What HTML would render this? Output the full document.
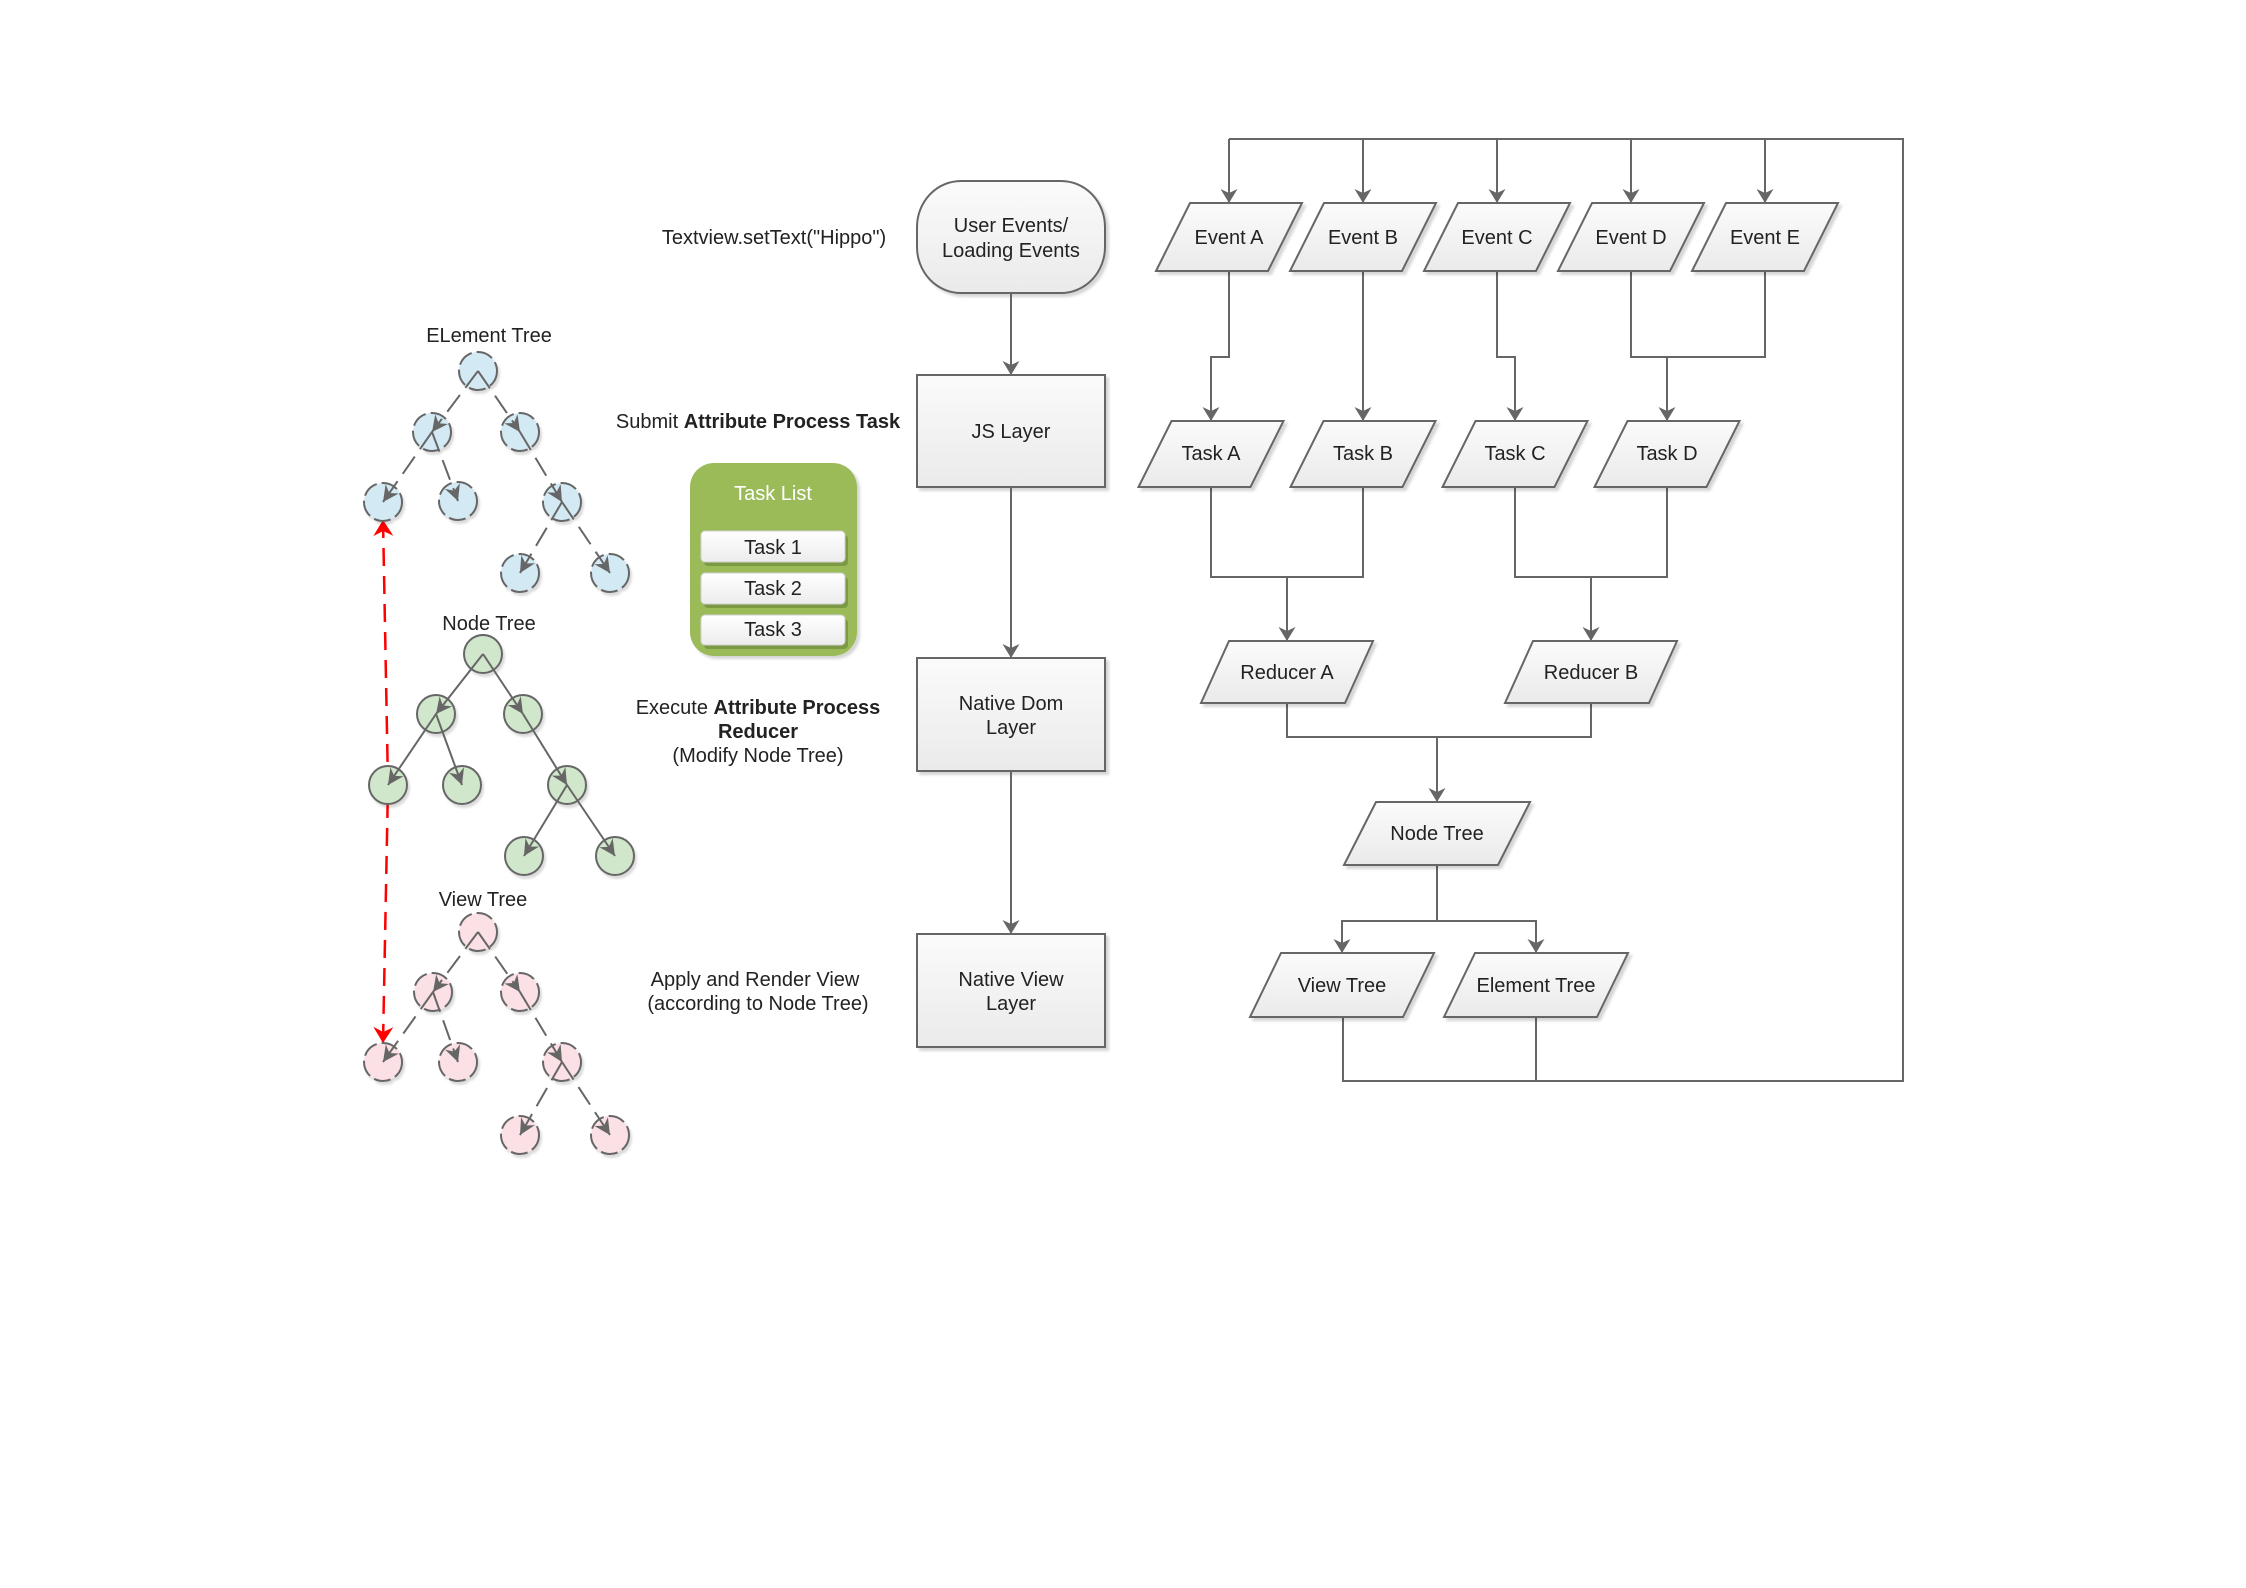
<!DOCTYPE html>
<html>
<head>
<meta charset="utf-8">
<style>
  html, body { margin: 0; padding: 0; background: #ffffff; }
  svg { display: block; }
  text { font-family: "Liberation Sans", Arial, sans-serif; font-size: 20px; fill: #222; }
  .b { font-weight: bold; }
</style>
</head>
<body>
<svg width="2246" height="1588" viewBox="0 0 2246 1588" xmlns="http://www.w3.org/2000/svg">
  <defs>
    <linearGradient id="gbox" x1="0" y1="0" x2="0" y2="1">
      <stop offset="0" stop-color="#fbfbfb"/>
      <stop offset="1" stop-color="#eaeaea"/>
    </linearGradient>
    <linearGradient id="gtask" x1="0" y1="0" x2="0" y2="1">
      <stop offset="0" stop-color="#ffffff"/>
      <stop offset="1" stop-color="#ececec"/>
    </linearGradient>
    <filter id="sh" x="-20%" y="-20%" width="140%" height="150%">
      <feDropShadow dx="3" dy="3" stdDeviation="1.2" flood-color="#000" flood-opacity="0.16"/>
    </filter>
    <filter id="shc" x="-30%" y="-30%" width="160%" height="160%">
      <feDropShadow dx="2" dy="3" stdDeviation="1" flood-color="#000" flood-opacity="0.14"/>
    </filter>
    <marker id="arr" viewBox="-16 -9 17 18" refX="0" refY="0" markerWidth="17" markerHeight="18" markerUnits="userSpaceOnUse" orient="auto">
      <path d="M0,0 L-14,-8.5 L-10,0 L-14,8.5 Z" fill="#666"/>
    </marker>
    <marker id="tarr" viewBox="-18 -9 19 18" refX="0" refY="0" markerWidth="19" markerHeight="18" markerUnits="userSpaceOnUse" orient="auto">
      <path d="M0,0 L-16,-8 L-11,0 L-16,8 Z" fill="#666"/>
    </marker>
    <marker id="rarr" viewBox="-17 -11 18 22" refX="0" refY="0" markerWidth="18" markerHeight="22" markerUnits="userSpaceOnUse" orient="auto-start-reverse">
      <path d="M0,0 L-16,-10 L-11,0 L-16,10 Z" fill="#ff0000"/>
    </marker>
  </defs>

  <!-- ================= LEFT: TREES ================= -->
  <text x="489" y="342" text-anchor="middle">ELement Tree</text>
  <text x="489" y="630" text-anchor="middle">Node Tree</text>
  <text x="483" y="906" text-anchor="middle">View Tree</text>

  <!-- red dashed double arrow (behind circles) -->
  <path d="M383,520 L388,785 L383,1043" fill="none" stroke="#ff0000" stroke-width="2.5" stroke-dasharray="18 10" marker-start="url(#rarr)" marker-end="url(#rarr)"/>

  <!-- Element tree circles -->
  <g fill="#d3e9f3" stroke="#666" stroke-width="2" stroke-dasharray="17 5" filter="url(#shc)">
    <circle cx="478" cy="371" r="19"/>
    <circle cx="432" cy="432" r="19"/>
    <circle cx="520" cy="432" r="19"/>
    <circle cx="383" cy="502" r="19"/>
    <circle cx="458" cy="501" r="19"/>
    <circle cx="562" cy="502" r="19"/>
    <circle cx="520" cy="573" r="19"/>
    <circle cx="610" cy="573" r="19"/>
  </g>
  <!-- Element tree edges -->
  <g fill="none" stroke="#666" stroke-width="2" stroke-dasharray="21 9 21 9 60 9" marker-end="url(#tarr)">
    <line x1="478" y1="371" x2="432" y2="432"/>
    <line x1="478" y1="371" x2="520" y2="432"/>
    <line x1="432" y1="432" x2="383" y2="502"/>
    <line x1="432" y1="432" x2="458" y2="501"/>
    <line x1="520" y1="432" x2="562" y2="502"/>
    <line x1="562" y1="502" x2="520" y2="573"/>
    <line x1="562" y1="502" x2="610" y2="573"/>
  </g>

  <!-- Node tree circles -->
  <g fill="#d1e7cc" stroke="#666" stroke-width="2" filter="url(#shc)">
    <circle cx="483" cy="654" r="19"/>
    <circle cx="436" cy="714" r="19"/>
    <circle cx="523" cy="714" r="19"/>
    <circle cx="388" cy="785" r="19"/>
    <circle cx="462" cy="785" r="19"/>
    <circle cx="567" cy="785" r="19"/>
    <circle cx="524" cy="856" r="19"/>
    <circle cx="615" cy="856" r="19"/>
  </g>
  <g fill="none" stroke="#666" stroke-width="2" marker-end="url(#tarr)">
    <line x1="483" y1="654" x2="436" y2="714"/>
    <line x1="483" y1="654" x2="523" y2="714"/>
    <line x1="436" y1="714" x2="388" y2="785"/>
    <line x1="436" y1="714" x2="462" y2="785"/>
    <line x1="523" y1="714" x2="567" y2="785"/>
    <line x1="567" y1="785" x2="524" y2="856"/>
    <line x1="567" y1="785" x2="615" y2="856"/>
  </g>

  <!-- View tree circles -->
  <g fill="#fbe0e6" stroke="#666" stroke-width="2" stroke-dasharray="17 5" filter="url(#shc)">
    <circle cx="478" cy="932" r="19"/>
    <circle cx="433" cy="992" r="19"/>
    <circle cx="520" cy="992" r="19"/>
    <circle cx="383" cy="1062" r="19"/>
    <circle cx="458" cy="1062" r="19"/>
    <circle cx="562" cy="1062" r="19"/>
    <circle cx="520" cy="1135" r="19"/>
    <circle cx="610" cy="1135" r="19"/>
  </g>
  <g fill="none" stroke="#666" stroke-width="2" stroke-dasharray="21 9 21 9 60 9" marker-end="url(#tarr)">
    <line x1="478" y1="932" x2="433" y2="992"/>
    <line x1="478" y1="932" x2="520" y2="992"/>
    <line x1="433" y1="992" x2="383" y2="1062"/>
    <line x1="433" y1="992" x2="458" y2="1062"/>
    <line x1="520" y1="992" x2="562" y2="1062"/>
    <line x1="562" y1="1062" x2="520" y2="1135"/>
    <line x1="562" y1="1062" x2="610" y2="1135"/>
  </g>

  <!-- ================= MIDDLE LABELS ================= -->
  <text x="774" y="244" text-anchor="middle">Textview.setText("Hippo")</text>
  <text x="758" y="428" text-anchor="middle">Submit <tspan class="b">Attribute Process Task</tspan></text>
  <text x="758" y="714" text-anchor="middle">Execute <tspan class="b">Attribute Process</tspan></text>
  <text x="758" y="738" text-anchor="middle" class="b">Reducer</text>
  <text x="758" y="762" text-anchor="middle">(Modify Node Tree)</text>
  <text x="755" y="986" text-anchor="middle">Apply and Render View</text>
  <text x="758" y="1010" text-anchor="middle">(according to Node Tree)</text>

  <!-- Task list -->
  <rect x="690" y="463" width="167" height="193" rx="24" ry="24" fill="#9bbb59" filter="url(#sh)"/>
  <text x="773" y="500" text-anchor="middle" style="fill:#ffffff">Task List</text>
  <g>
    <rect x="704" y="535" width="144" height="31" rx="4" fill="#7c9a44"/>
    <rect x="701" y="531" width="144" height="31" rx="4" fill="url(#gtask)" stroke="#d0d0d0" stroke-width="1"/>
    <text x="773" y="554" text-anchor="middle">Task 1</text>
    <rect x="704" y="577" width="144" height="31" rx="4" fill="#7c9a44"/>
    <rect x="701" y="573" width="144" height="31" rx="4" fill="url(#gtask)" stroke="#d0d0d0" stroke-width="1"/>
    <text x="773" y="595" text-anchor="middle">Task 2</text>
    <rect x="704" y="619" width="144" height="30" rx="4" fill="#7c9a44"/>
    <rect x="701" y="615" width="144" height="30" rx="4" fill="url(#gtask)" stroke="#d0d0d0" stroke-width="1"/>
    <text x="773" y="636" text-anchor="middle">Task 3</text>
  </g>

  <!-- ================= MIDDLE COLUMN ================= -->
  <g stroke="#666" stroke-width="2">
    <rect x="917" y="181" width="188" height="112" rx="44" ry="46" fill="url(#gbox)" filter="url(#sh)"/>
    <rect x="917" y="375" width="188" height="112" fill="url(#gbox)" filter="url(#sh)"/>
    <rect x="917" y="658" width="188" height="113" fill="url(#gbox)" filter="url(#sh)"/>
    <rect x="917" y="934" width="188" height="113" fill="url(#gbox)" filter="url(#sh)"/>
  </g>
  <g fill="none" stroke="#666" stroke-width="2" marker-end="url(#arr)">
    <line x1="1011" y1="293" x2="1011" y2="375"/>
    <line x1="1011" y1="487" x2="1011" y2="658"/>
    <line x1="1011" y1="771" x2="1011" y2="934"/>
  </g>
  <text x="1011" y="232" text-anchor="middle">User Events/</text>
  <text x="1011" y="257" text-anchor="middle">Loading Events</text>
  <text x="1011" y="438" text-anchor="middle">JS Layer</text>
  <text x="1011" y="710" text-anchor="middle">Native Dom</text>
  <text x="1011" y="734" text-anchor="middle">Layer</text>
  <text x="1011" y="986" text-anchor="middle">Native View</text>
  <text x="1011" y="1010" text-anchor="middle">Layer</text>

  <!-- ================= RIGHT FLOWCHART ================= -->
  <g fill="none" stroke="#666" stroke-width="2">
    <polyline points="1343,1017 1343,1081 1903,1081 1903,139 1229,139"/>
    <line x1="1536" y1="1017" x2="1536" y2="1081"/>
    <polyline points="1631,271 1631,357 1765,357 1765,271"/>
    <polyline points="1211,487 1211,577 1363,577 1363,487"/>
    <polyline points="1515,487 1515,577 1667,577 1667,487"/>
    <polyline points="1287,703 1287,737 1591,737 1591,703"/>
    <line x1="1437" y1="865" x2="1437" y2="921"/>
  </g>
  <g fill="none" stroke="#666" stroke-width="2" marker-end="url(#arr)">
    <line x1="1229" y1="139" x2="1229" y2="203"/>
    <line x1="1363" y1="139" x2="1363" y2="203"/>
    <line x1="1497" y1="139" x2="1497" y2="203"/>
    <line x1="1631" y1="139" x2="1631" y2="203"/>
    <line x1="1765" y1="139" x2="1765" y2="203"/>
    <polyline points="1229,271 1229,357 1211,357 1211,421"/>
    <line x1="1363" y1="271" x2="1363" y2="421"/>
    <polyline points="1497,271 1497,357 1515,357 1515,421"/>
    <line x1="1667" y1="357" x2="1667" y2="421"/>
    <line x1="1287" y1="577" x2="1287" y2="641"/>
    <line x1="1591" y1="577" x2="1591" y2="641"/>
    <line x1="1437" y1="737" x2="1437" y2="802"/>
    <polyline points="1437,921 1342,921 1342,953"/>
    <polyline points="1437,921 1536,921 1536,953"/>
  </g>

  <g fill="url(#gbox)" stroke="#666" stroke-width="2" filter="url(#sh)">
    <polygon points="1190,203 1302,203 1268,271 1156,271"/>
    <polygon points="1324,203 1436,203 1402,271 1290,271"/>
    <polygon points="1458,203 1570,203 1536,271 1424,271"/>
    <polygon points="1592,203 1704,203 1670,271 1558,271"/>
    <polygon points="1726,203 1838,203 1804,271 1692,271"/>

    <polygon points="1171.5,421 1283.5,421 1250.5,487 1138.5,487"/>
    <polygon points="1323.5,421 1435.5,421 1402.5,487 1290.5,487"/>
    <polygon points="1475.5,421 1587.5,421 1554.5,487 1442.5,487"/>
    <polygon points="1627.5,421 1739.5,421 1706.5,487 1594.5,487"/>

    <polygon points="1229,641 1373,641 1345,703 1201,703"/>
    <polygon points="1533,641 1677,641 1649,703 1505,703"/>

    <polygon points="1376,802 1530,802 1498,865 1344,865"/>

    <polygon points="1281,953 1434,953 1403,1017 1250,1017"/>
    <polygon points="1475,953 1628,953 1597,1017 1444,1017"/>
  </g>

  <g text-anchor="middle">
    <text x="1229" y="244">Event A</text>
    <text x="1363" y="244">Event B</text>
    <text x="1497" y="244">Event C</text>
    <text x="1631" y="244">Event D</text>
    <text x="1765" y="244">Event E</text>

    <text x="1211" y="460">Task A</text>
    <text x="1363" y="460">Task B</text>
    <text x="1515" y="460">Task C</text>
    <text x="1667" y="460">Task D</text>

    <text x="1287" y="679">Reducer A</text>
    <text x="1591" y="679">Reducer B</text>

    <text x="1437" y="840">Node Tree</text>

    <text x="1342" y="992">View Tree</text>
    <text x="1536" y="992">Element Tree</text>
  </g>
</svg>
</body>
</html>
